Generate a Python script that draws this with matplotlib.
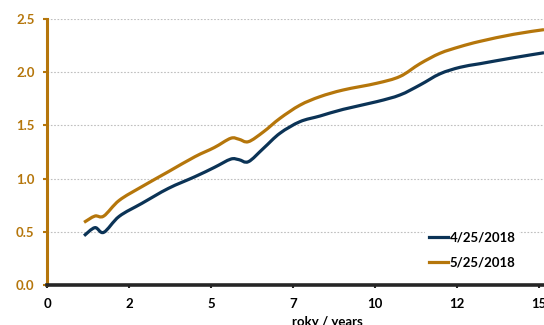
import matplotlib
matplotlib.use("Agg")
import matplotlib.pyplot as plt
from matplotlib.path import Path
from matplotlib.patches import PathPatch
from matplotlib.lines import Line2D

# ---- data ----
years = [1.13, 1.46, 1.73, 2.2, 2.89, 3.7, 4.51, 5.1, 5.6, 5.85, 6.14, 6.6,
         7.1, 7.71, 8.32, 9.03, 10.05, 10.76, 11.37, 11.98, 12.59, 13.2, 14.22, 15.15]
apr_2018 = [0.463, 0.539, 0.495, 0.645, 0.767, 0.908, 1.018, 1.105, 1.183, 1.178,
            1.159, 1.285, 1.426, 1.535, 1.588, 1.651, 1.723, 1.786, 1.88, 1.985,
            2.046, 2.08, 2.136, 2.183]
may_2018 = [0.589, 0.648, 0.648, 0.795, 0.924, 1.065, 1.206, 1.292, 1.379, 1.37,
            1.347, 1.44, 1.566, 1.69, 1.77, 1.833, 1.896, 1.96, 2.08, 2.178,
            2.24, 2.29, 2.356, 2.40]
series_labels = ["4/25/2018", "5/25/2018"]
xtick_pos = [0, 2.5, 5, 7.5, 10, 12.5, 15]
xtick_labels = ["0", "2", "5", "7", "10", "12", "15"]
ytick_pos = [0.0, 0.5, 1.0, 1.5, 2.0, 2.5]
ytick_labels = ["0.0", "0.5", "1.0", "1.5", "2.0", "2.5"]
xlabel = "roky / years"

BLUE = "#0B3356"
GOLD = "#B5760B"
DARK = "#262626"
FS = 9.5

plt.rcParams['font.family'] = ['Lato', 'DejaVu Sans']
plt.rcParams['font.weight'] = 'bold'


def smooth_path(xs, ys):
    """Excel-like smoothed line: cubic Bezier segments through the points."""
    pts = list(zip(xs, ys))
    n = len(pts)
    verts = [pts[0]]
    codes = [Path.MOVETO]
    for i in range(n - 1):
        p0 = pts[i - 1] if i > 0 else pts[i]
        p1 = pts[i]
        p2 = pts[i + 1]
        p3 = pts[i + 2] if i + 2 < n else pts[i + 1]
        c1 = (p1[0] + (p2[0] - p0[0]) / 6, p1[1] + (p2[1] - p0[1]) / 6)
        c2 = (p2[0] - (p3[0] - p1[0]) / 6, p2[1] - (p3[1] - p1[1]) / 6)
        verts += [c1, c2, p2]
        codes += [Path.CURVE4] * 3
    return Path(verts, codes)


W, H = 544, 325
fig = plt.figure(figsize=(W / 100, H / 100), dpi=100)
left = 47 / W
bottom = (H - 285) / H
top = (H - 19) / H
ax = fig.add_axes([left, bottom, 1 - left, top - bottom])

for ys, col in [(apr_2018, BLUE), (may_2018, GOLD)]:
    ax.add_patch(PathPatch(smooth_path(years, ys), fill=False, edgecolor=col,
                           lw=2.3, joinstyle='round', capstyle='butt', zorder=3))

ax.set_xlim(0, 15.15)
ax.set_ylim(0, 2.5)

for v in ytick_pos[1:]:
    ax.axhline(v, color="#BFBFBF", lw=0.8, ls=(0, (1.5, 1.5)), zorder=1)

ax.set_yticks(ytick_pos)
ax.set_yticklabels(ytick_labels, color=GOLD, fontsize=FS, fontweight='bold')
ax.set_xticks(xtick_pos)
ax.set_xticklabels(xtick_labels, color="black", fontsize=FS, fontweight='bold')
ax.tick_params(axis='y', length=3, width=1.5, color=GOLD, pad=6)
ax.tick_params(axis='x', length=2, width=1.5, color=DARK, pad=7)

for s in ['top', 'right']:
    ax.spines[s].set_visible(False)
ax.spines['left'].set_color(GOLD)
ax.spines['left'].set_linewidth(2.2)
ax.spines['left'].set_zorder(4)
ax.spines['bottom'].set_color(DARK)
ax.spines['bottom'].set_linewidth(2.6)
ax.spines['bottom'].set_zorder(4)

ax.set_xlabel(xlabel, fontsize=FS, fontweight='bold', color="black")
ax.xaxis.set_label_coords((327 - 47) / (W - 47), -0.115)
ax.xaxis.label.set_va('top')

handles = [Line2D([], [], color=BLUE, lw=2.3), Line2D([], [], color=GOLD, lw=2.3)]
leg = ax.legend(handles, series_labels, loc='center left',
                bbox_to_anchor=(425 / W, 1 - 250 / H),
                bbox_transform=fig.transFigure, frameon=True, fancybox=False,
                edgecolor='none', facecolor='white', framealpha=1,
                borderpad=0.3, borderaxespad=0, handlelength=1.45,
                handletextpad=0.1, labelspacing=0.95,
                prop={'size': FS, 'weight': 'bold'})
for t in leg.get_texts():
    t.set_color("black")
leg.set_zorder(5)

fig.savefig("out.png", dpi=100)
